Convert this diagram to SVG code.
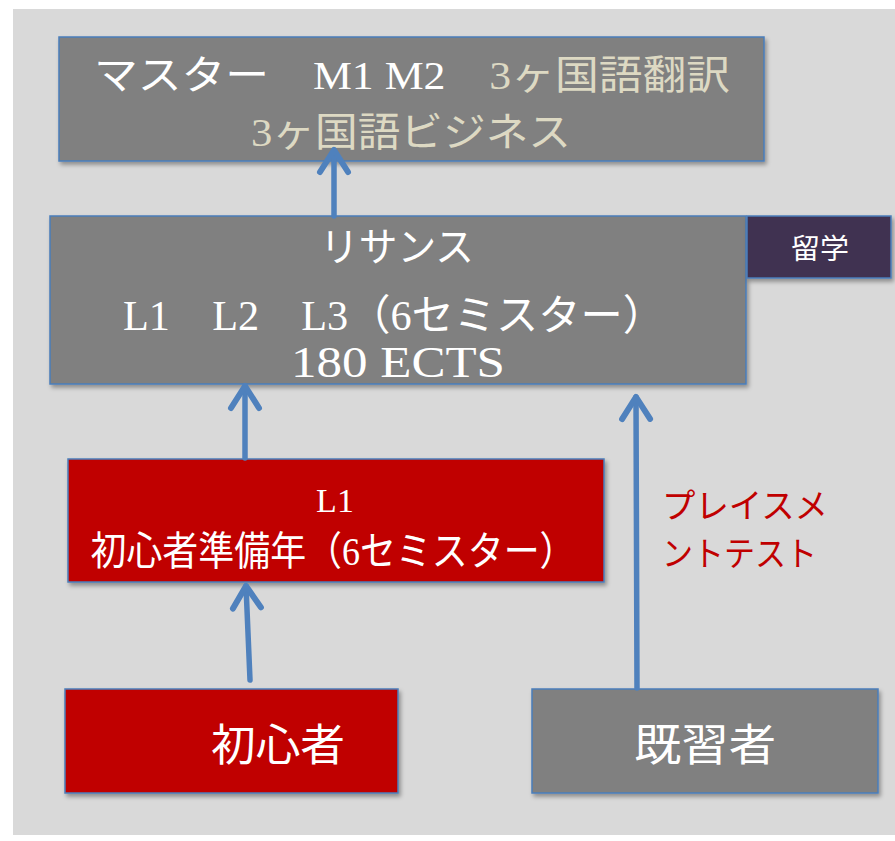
<svg xmlns="http://www.w3.org/2000/svg" width="895" height="841" viewBox="0 0 895 841">
<style>
.box{stroke:#4a7ebb;stroke-width:1.5;filter:url(#sh)}
.gray{fill:#808080}
.red{fill:#c00000}
.t{font-family:"Liberation Serif","Noto Sans CJK JP",serif;fill:#ffffff;text-anchor:middle}
.beige{fill:#ddd9c3}
.conn{stroke:#4f81bd;stroke-width:5.5;fill:none;stroke-linecap:round;marker-end:url(#ah)}
</style>
<defs>
<filter id="sh" x="-10%" y="-10%" width="120%" height="130%">
<feDropShadow dx="2" dy="3" stdDeviation="2" flood-color="#000" flood-opacity="0.35"/>
</filter>
<marker id="ah" markerUnits="userSpaceOnUse" orient="auto" refX="0" refY="0" markerWidth="40" markerHeight="40" overflow="visible">
<path d="M-22,-14 L0,0 L-22,14" fill="none" stroke="#4f81bd" stroke-width="6" stroke-linecap="round" stroke-linejoin="round"/>
</marker>
</defs>
<rect x="0" y="0" width="895" height="841" fill="#ffffff"/>
<rect x="13" y="9" width="882" height="826" fill="#d9d9d9"/>

<g id="master">
<rect class="box gray" x="59" y="37" width="705" height="124"/>
<text class="t" x="412" y="89" font-size="40" textLength="636" lengthAdjust="spacingAndGlyphs">マスター　M1 M2　<tspan class="beige">3ヶ国語翻訳</tspan></text>
<text class="t beige" x="411" y="146" font-size="40" textLength="320" lengthAdjust="spacingAndGlyphs">3ヶ国語ビジネス</text>
</g>

<g id="licence">
<rect class="box gray" x="50" y="216" width="696" height="168"/>
<text class="t" x="397" y="261" font-size="40" textLength="154" lengthAdjust="spacingAndGlyphs">リサンス</text>
<text class="t" x="394" y="330" font-size="42" textLength="542" lengthAdjust="spacingAndGlyphs">L1　L2　L3（6セミスター）</text>
<text class="t" x="398" y="377" font-size="44" textLength="214" lengthAdjust="spacingAndGlyphs">180 ECTS</text>
</g>

<g id="ryugaku">
<rect x="747" y="216" width="144" height="62" fill="#403151" stroke="#4a7ebb" stroke-width="1.5" filter="url(#sh)"/>
<text class="t" x="820" y="259" font-size="28" textLength="58" lengthAdjust="spacingAndGlyphs">留学</text>
</g>

<g id="l1">
<rect class="box red" x="68" y="459" width="536" height="123"/>
<text class="t" x="335" y="512" font-size="34">L1</text>
<text class="t" x="333" y="565" font-size="40" textLength="485" lengthAdjust="spacingAndGlyphs">初心者準備年（6セミスター）</text>
</g>

<g id="placement">
<text x="662" y="518" font-family="'Liberation Serif','Noto Sans CJK JP',serif" font-size="34" fill="#c00000" textLength="166" lengthAdjust="spacingAndGlyphs">プレイスメ</text>
<text x="662" y="566" font-family="'Liberation Serif','Noto Sans CJK JP',serif" font-size="34" fill="#c00000" textLength="155" lengthAdjust="spacingAndGlyphs">ントテスト</text>
</g>

<g id="beginner">
<rect class="box red" x="65" y="689" width="333" height="104"/>
<text class="t" x="278" y="761" font-size="44" textLength="134" lengthAdjust="spacingAndGlyphs">初心者</text>
</g>

<g id="experienced">
<rect class="box gray" x="532" y="689" width="346" height="104"/>
<text class="t" x="705" y="761" font-size="44" textLength="142" lengthAdjust="spacingAndGlyphs">既習者</text>
</g>

<g id="connectors">
<path class="conn" d="M334,216 L334,150"/>
<path class="conn" d="M245,458 L245,386"/>
<path class="conn" d="M250,680 L246,586"/>
<path class="conn" d="M637,688 L636,397"/>
</g>
</svg>
